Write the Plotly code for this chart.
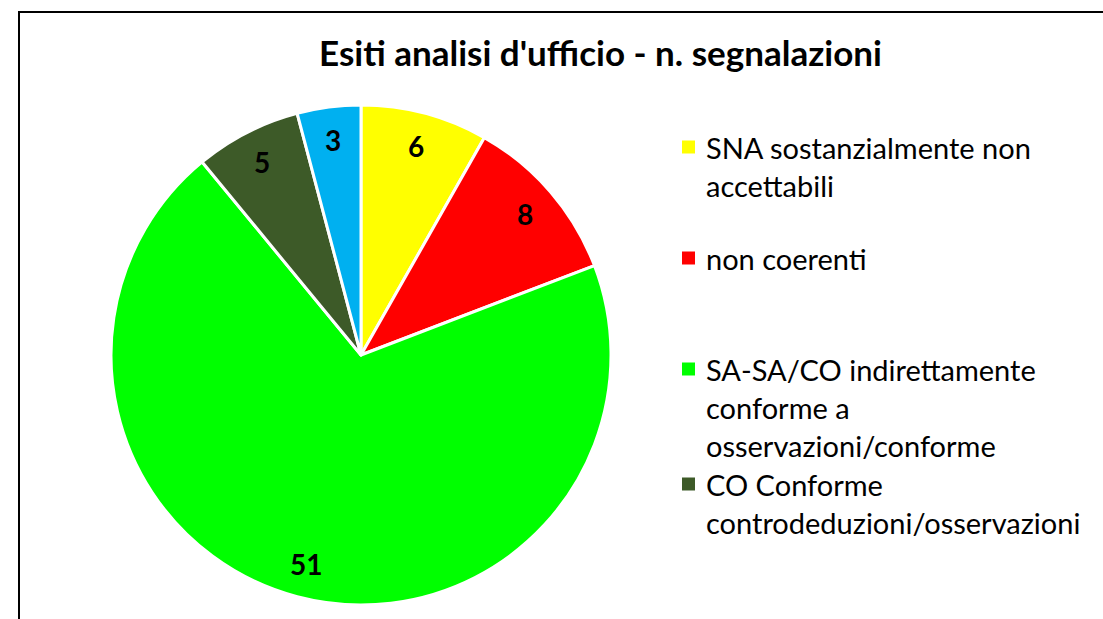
import math
import plotly.graph_objects as go

# ---- data ----
labels = [
    "SNA sostanzialmente non accettabili",
    "non coerenti",
    "SA-SA/CO indirettamente conforme a osservazioni/conforme",
    "CO Conforme controdeduzioni/osservazioni",
    "altro",
]
values = [6, 8, 51, 5, 3]
colors = ["#FFFF00", "#FF0000", "#00FF00", "#3D5A28", "#00B0F0"]
legend_lines = [
    ["SNA sostanzialmente non", "accettabili"],
    ["non coerenti"],
    ["SA-SA/CO indirettamente", "conforme a", "osservazioni/conforme"],
    ["CO Conforme", "controdeduzioni/osservazioni"],
]
title = "Esiti analisi d'ufficio - n. segnalazioni"

W, H = 1103, 619
FONT = "Lato"

def px(x):
    return x / W

def py(y):
    return 1 - y / H

# pie geometry (pixels)
cx, cy, r = 361, 355, 249

fig = go.Figure()
fig.add_trace(go.Pie(
    labels=labels,
    values=values,
    marker=dict(colors=colors, line=dict(color="white", width=3)),
    sort=False,
    direction="clockwise",
    rotation=0,
    textinfo="none",
    showlegend=False,
    domain=dict(x=[px(cx - r - 1), px(cx + r + 1)], y=[py(cy + r + 1), py(cy - r - 1)]),
))

annotations = []
# data labels at ~0.87 r along each slice's mid angle
total = sum(values)
cum = 0
for v in values:
    mid = (cum + v / 2) / total * 2 * math.pi
    cum += v
    lx = cx + 0.87 * r * math.sin(mid)
    ly = cy - 0.87 * r * math.cos(mid)
    annotations.append(dict(
        x=px(lx), y=py(ly), xref="paper", yref="paper",
        text=f"<b>{v}</b>", showarrow=False,
        font=dict(family=FONT, size=28, color="black"),
        xanchor="center", yanchor="middle",
    ))

# title
annotations.append(dict(
    x=px(600), y=py(52), xref="paper", yref="paper",
    text=f"<b>{title}</b>", showarrow=False,
    font=dict(family=FONT, size=35, color="black"),
    xanchor="center", yanchor="middle",
))

# legend (manual, Excel shows only the first four entries)
item_y = [147, 258, 369, 484]
line_gap = 38.5
shapes = []
for i, lines in enumerate(legend_lines):
    y0 = item_y[i]
    shapes.append(dict(
        type="rect", xref="paper", yref="paper",
        x0=px(682), x1=px(695), y0=py(y0 - 6.5), y1=py(y0 + 6.5),
        fillcolor=colors[i], line=dict(width=0),
    ))
    for j, t in enumerate(lines):
        annotations.append(dict(
            x=px(704), y=py(y0 + j * line_gap), xref="paper", yref="paper",
            text=t, showarrow=False,
            font=dict(family=FONT, size=29, color="black"),
            xanchor="left", yanchor="middle",
        ))

# chart frame
shapes.append(dict(
    type="rect", xref="paper", yref="paper",
    x0=px(19), x1=px(W + 20), y0=py(H + 20), y1=py(12),
    line=dict(color="black", width=2), fillcolor="rgba(0,0,0,0)",
))

fig.update_layout(
    width=W, height=H,
    margin=dict(l=0, r=0, t=0, b=0),
    paper_bgcolor="white", plot_bgcolor="white",
    annotations=annotations, shapes=shapes,
    font=dict(family=FONT),
)

fig.write_html(
    "out.html",
    config={"displayModeBar": False},
    post_script="document.body.style.margin='0';",
)
